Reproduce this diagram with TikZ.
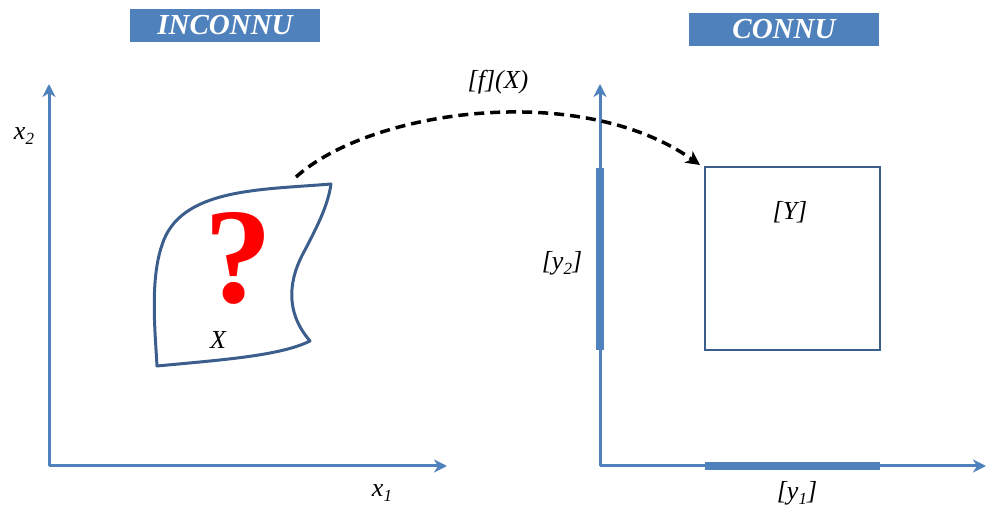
\documentclass[tikz,border=0pt]{standalone}
\usepackage{fontspec}
\setmainfont{Liberation Serif}
\usetikzlibrary{arrows.meta}
\definecolor{axisblue}{HTML}{4F81BD}
\definecolor{darkblue}{HTML}{3B5E8C}
\newcommand\lowsub[1]{\raisebox{-5pt}{\fontsize{17}{17}\selectfont #1}}
\tikzset{
  axis/.style={draw=axisblue, line width=3pt, -{Stealth[length=13pt,width=13pt,inset=4pt]}},
  interval/.style={draw=axisblue, line width=8pt},
  titlebox/.style={fill=axisblue, minimum width=190pt, minimum height=33pt, inner sep=0pt, text=white, font=\fontsize{29}{32}\selectfont\bfseries\itshape},
  lbl/.style={font=\fontsize{26}{30}\selectfont\itshape, inner sep=0pt},
}
\begin{document}
\begin{tikzpicture}[x=1pt,y=-1pt]
\useasboundingbox (0,0) rectangle (986,510);
% title boxes
\node[titlebox] (inc) at (225,25.5) {INCONNU};
\node[titlebox] (con) at (784,29.5) {CONNU};
% left axes
\coordinate (lo) at (49,466);
\coordinate (ly) at (49,84);
\coordinate (lx) at (447,466);
\draw[axis] (lo) -- (ly);
\draw[axis] (lo) -- (lx);
\node[lbl] (x2) at (24,136) {x\lowsub{2}};
\node[lbl] (x1) at (382,493) {x\lowsub{1}};
% right axes
\coordinate (ro) at (600,466);
\coordinate (ry) at (600,84);
\coordinate (rx) at (986,466);
\draw[axis] (ro) -- (ry);
\draw[axis] (ro) -- (rx);
\coordinate (i2a) at (600,168);
\coordinate (i2b) at (600,350);
\draw[interval] (i2a) -- (i2b);
\coordinate (i1a) at (705,466);
\coordinate (i1b) at (880,466);
\draw[interval] (i1a) -- (i1b);
\node[lbl] (y2) at (562,263) {[y\lowsub{2}]};
\node[lbl] (y1) at (797,493) {[y\lowsub{1}]};
% known box
\node[draw=darkblue, line width=2pt, minimum width=175pt, minimum height=183pt, inner sep=0pt] (Y) at (792.5,258.5) {};
\node[lbl] (Yl) at (790,212) {[Y]};
% unknown blob
\draw[darkblue, line width=3pt, line join=round]
  (331,184) .. controls (260,190) and (180,188) .. (162,245)
  .. controls (150,280) and (155,330) .. (157,366)
  .. controls (220,360) and (280,356) .. (310,341)
  .. controls (285,312) and (288,280) .. (305,250)
  .. controls (318,225) and (328,205) .. (331,184) -- cycle;
\node[text=red, inner sep=0pt, text depth=0pt, font=\fontsize{136}{136}\selectfont\bfseries] (q) at (238,257) {?};
\node[lbl] (X) at (218,340) {X};
% mapping arrow
\coordinate (fs) at (296,177);
\coordinate (fe) at (700,165);
\draw[black, line width=3.5pt, dash pattern=on 10pt off 6pt, -{Stealth[length=14pt,width=14pt,inset=4pt]}]
  (fs) .. controls (370,110) and (580,80) .. (fe);
\node[lbl] (f) at (498,82) {[f](X)};
\end{tikzpicture}
\end{document}
